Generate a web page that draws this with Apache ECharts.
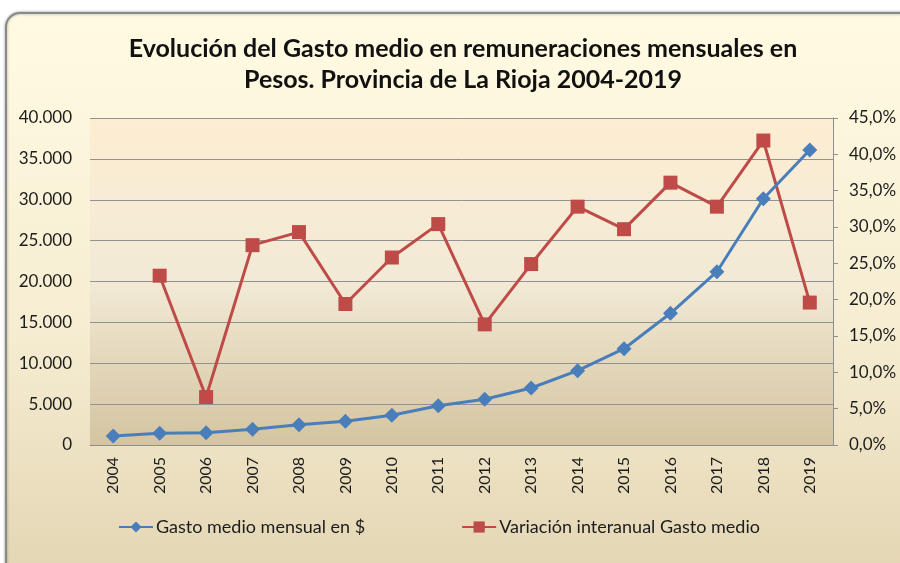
<!DOCTYPE html>
<html>
<head>
<meta charset="utf-8">
<script src="https://cdn.jsdelivr.net/npm/echarts@6/dist/echarts.min.js"></script>
<style>
  html, body { margin: 0; padding: 0; background: #ffffff; }
  #chart { width: 900px; height: 563px; }
</style>
</head>
<body>
<div id="chart"></div>
<script>
// Years on the category axis
const years = ['2004','2005','2006','2007','2008','2009','2010','2011',
               '2012','2013','2014','2015','2016','2017','2018','2019'];

// Average monthly spending on salaries, in pesos (left axis)
const gastoMedio = [1100, 1430, 1500, 1920, 2480, 2900, 3630, 4810,
                    5590, 6970, 9090, 11780, 16110, 21200, 30130, 36090];

// Year-on-year change of the average spending, in percent (right axis)
const variacion = [null, 23.3, 6.6, 27.5, 29.3, 19.4, 25.8, 30.4,
                   16.6, 24.9, 32.8, 29.7, 36.1, 32.8, 41.9, 19.6];

const seriesNames = ['Gasto medio mensual en $', 'Variación interanual Gasto medio'];

const FONT = 'Lato, "Open Sans", sans-serif';
const TEXT = '#1c1c1c';

const chart = echarts.init(document.getElementById('chart'));

const fmtPesos = v => v === 0 ? '0' : String(v).replace(/\B(?=(\d{3})+(?!\d))/g, '.');
const fmtPct = v => v.toFixed(1).replace('.', ',') + '%';

chart.setOption({
  animation: false,
  graphic: [{
    type: 'rect',
    z: -100,
    silent: true,
    shape: { x: 6, y: 13, width: 910, height: 570, r: 14 },
    style: {
      fill: new echarts.graphic.LinearGradient(0, 0, 0, 1, [
        { offset: 0, color: '#FFFBE2' },
        { offset: 0.55, color: '#F6EDD2' },
        { offset: 1, color: '#E3D5B3' }
      ]),
      stroke: '#8a8a8a',
      lineWidth: 2,
      shadowBlur: 3,
      shadowColor: 'rgba(0,0,0,0.35)'
    }
  }],
  title: {
    text: 'Evolución del Gasto medio en remuneraciones mensuales en\nPesos. Provincia de La Rioja 2004-2019',
    left: 458,
    top: 28,
    textAlign: 'center',
    textStyle: {
      fontFamily: FONT,
      fontWeight: 'bold',
      fontSize: 25,
      lineHeight: 31,
      color: '#111111'
    }
  },
  grid: {
    left: 90,
    right: 67,
    top: 118,
    bottom: 118,
    show: true,
    borderWidth: 0,
    backgroundColor: new echarts.graphic.LinearGradient(0, 0, 0, 1, [
      { offset: 0, color: '#FDEDD2' },
      { offset: 0.5, color: '#F2EAD6' },
      { offset: 1, color: '#D4C4A0' }
    ])
  },
  legend: {
    left: 113,
    top: 513,
    itemGap: 96,
    itemWidth: 34,
    itemHeight: 14,
    textStyle: { fontFamily: FONT, fontSize: 18, color: TEXT, padding: [0, 0, 0, -2] },
    data: seriesNames
  },
  xAxis: {
    type: 'category',
    data: years,
    boundaryGap: true,
    axisLine: { show: true, lineStyle: { color: '#8f8f8f', width: 1 } },
    axisTick: { show: false },
    axisLabel: {
      rotate: 90,
      margin: 12,
      fontFamily: FONT,
      fontSize: 16,
      color: TEXT,
      interval: 0
    }
  },
  yAxis: [{
    type: 'value',
    min: 0,
    max: 40000,
    interval: 5000,
    position: 'left',
    axisLine: { show: false },
    axisTick: { show: false },
    splitLine: { show: true, lineStyle: { color: '#929292', width: 1 } },
    axisLabel: {
      margin: 18,
      fontFamily: FONT,
      fontSize: 17,
      color: TEXT,
      formatter: fmtPesos
    }
  }, {
    type: 'value',
    min: 0,
    max: 45,
    interval: 5,
    position: 'right',
    axisLine: { show: true, lineStyle: { color: '#8f8f8f', width: 1 } },
    axisTick: { show: true, length: 5, lineStyle: { color: '#8f8f8f' } },
    splitLine: { show: false },
    axisLabel: {
      margin: 16,
      fontFamily: FONT,
      fontSize: 17,
      color: TEXT,
      formatter: fmtPct
    }
  }],
  series: [{
    name: seriesNames[0],
    type: 'line',
    yAxisIndex: 0,
    data: gastoMedio,
    symbol: 'diamond',
    symbolSize: 15,
    lineStyle: { color: '#4A7EBB', width: 3 },
    itemStyle: { color: '#4A7EBB' },
    z: 3
  }, {
    name: seriesNames[1],
    type: 'line',
    yAxisIndex: 1,
    data: variacion,
    symbol: 'rect',
    symbolSize: 14,
    lineStyle: { color: '#BE4B48', width: 3 },
    itemStyle: { color: '#BE4B48' },
    z: 2
  }]
});
</script>
</body>
</html>
